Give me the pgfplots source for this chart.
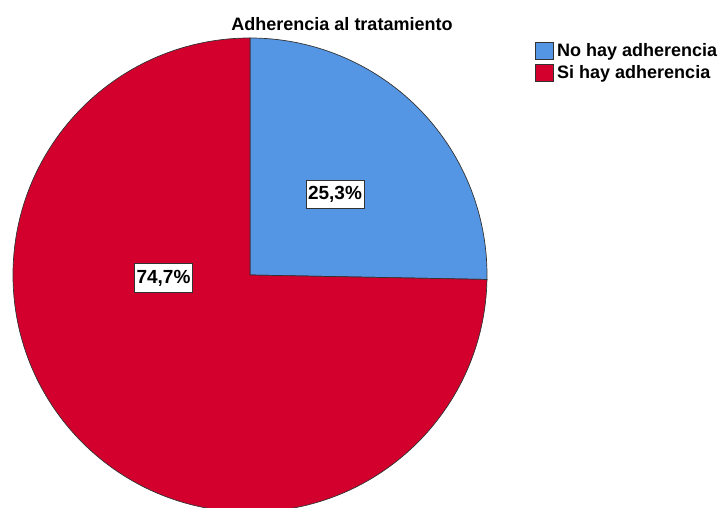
\documentclass[border=0pt]{standalone}
\usepackage{pgfplots}
\pgfplotsset{compat=1.18}
\usepackage{pgfplotstable}
\usepackage{fontspec}
\setmainfont{Liberation Sans}

\definecolor{noC}{RGB}{85,150,228}
\definecolor{siC}{RGB}{211,0,46}
\definecolor{edgeC}{RGB}{50,50,50}

% share of patients, in percent
\pgfplotstableread{
grupo valor
No    25.3
Si    74.7
}\adherencia

\begin{document}
\begin{tikzpicture}
  \pgfplotstablegetelem{0}{valor}\of\adherencia \let\valNo\pgfplotsretval
  \pgfplotstablegetelem{1}{valor}\of\adherencia \let\valSi\pgfplotsretval
  \pgfmathsetmacro\angEnd{90-3.6*\valNo}

  \begin{axis}[
      at={(0,0)}, anchor=south west,
      scale only axis, width=722bp, height=508bp,
      xmin=0, xmax=722, ymin=0, ymax=508,
      enlargelimits=false, hide axis, clip=true,
      /pgf/number format/assume math mode=true,
    ]
    % pie: centre (250,233), radius 237 (1 unit = 1bp)
    \filldraw[fill=noC, draw=edgeC, line width=0.7bp]
      (axis cs:250,233) -- (axis cs:250,470)
      arc[start angle=90, end angle=\angEnd, radius=237bp] -- cycle;
    \filldraw[fill=siC, draw=edgeC, line width=0.7bp]
      (axis cs:250,233) -- (axis cs:250,470)
      arc[start angle=90, end angle=\angEnd+360, radius=237bp] -- cycle;

    \tikzset{lbl/.style={fill=white, draw=edgeC, line width=0.8bp,
        font=\fontsize{19bp}{22bp}\selectfont\bfseries,
        inner xsep=2bp, text height=13.7bp, text depth=3.5bp, inner ysep=5.5bp}}
    \node[lbl] at (axis cs:335,313.5)
      {\pgfmathprintnumber[fixed,precision=1,use comma,assume math mode=true]{\valNo}\%};
    \node[lbl] at (axis cs:163.5,230)
      {\pgfmathprintnumber[fixed,precision=1,use comma,assume math mode=true]{\valSi}\%};

    % title
    \node[anchor=base, font=\fontsize{18bp}{22bp}\selectfont\bfseries]
      at (axis cs:342,477.7) {Adherencia al tratamiento};

    % legend
    \filldraw[fill=noC, draw=edgeC, line width=0.8bp]
      (axis cs:535,466) rectangle (axis cs:553,449);
    \filldraw[fill=siC, draw=edgeC, line width=0.8bp]
      (axis cs:535,444) rectangle (axis cs:553,427);
    \node[anchor=base west, inner sep=0pt, font=\fontsize{18bp}{22bp}\selectfont\bfseries]
      at (axis cs:557,451) {No hay adherencia};
    \node[anchor=base west, inner sep=0pt, font=\fontsize{18bp}{22bp}\selectfont\bfseries]
      at (axis cs:557,429.5) {Si hay adherencia};
  \end{axis}
  \pgfresetboundingbox
  \path[use as bounding box] (0,0) rectangle (722bp,508bp);
\end{tikzpicture}
\end{document}
